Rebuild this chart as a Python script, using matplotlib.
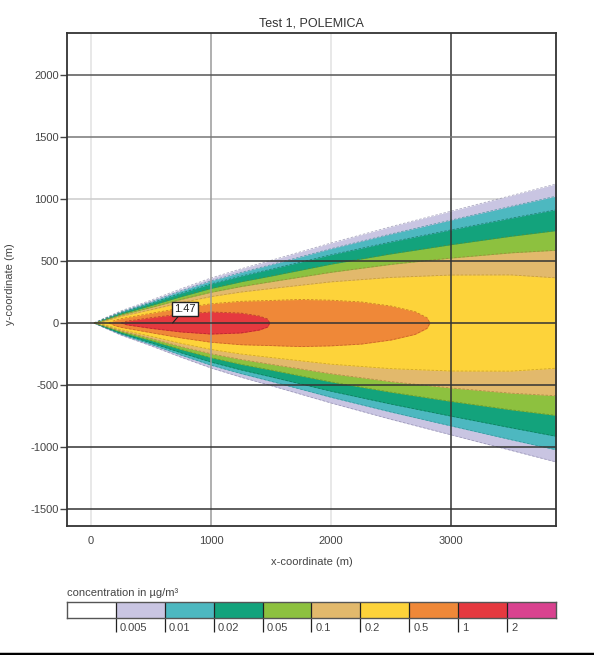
import matplotlib
matplotlib.use('Agg')
import matplotlib.pyplot as plt
from matplotlib.lines import Line2D

plt.rcParams['font.family'] = ['Liberation Sans', 'DejaVu Sans']
plt.rcParams['axes.unicode_minus'] = False

# plume half-widths (m) of each concentration contour
xs = [25, 100, 250, 500, 750, 1000, 1250, 1500, 2000, 2500, 3000, 3500, 3900]
hw_0005 = [0, 34, 98, 184, 276, 363, 437, 505, 645, 777, 902, 1027, 1127]
hw_001 = [0, 31, 91, 172, 259, 340, 408, 470, 599, 718, 830, 941, 1028]
hw_002 = [0, 28, 84, 160, 240, 315, 378, 434, 550, 654, 751, 845, 918]
hw_005 = [0, 23, 73, 141, 213, 279, 333, 379, 475, 558, 632, 700, 748]
hw_01 = [0, 18, 64, 125, 190, 248, 294, 333, 409, 473, 524, 566, 588]
hw_02 = [0, 11, 54, 107, 164, 213, 250, 278, 332, 368, 387, 388, 363]

x_05 = [150, 200, 250, 500, 750, 1000, 1250, 1500, 1750, 2000, 2250, 2500, 2700, 2800, 2825]
hw_05 = [0, 22, 35, 78, 120, 155, 175, 182, 190, 184, 170, 137, 92, 43, 0]

x_1 = [250, 300, 350, 500, 750, 1000, 1250, 1400, 1470, 1490]
hw_1 = [0, 15, 22, 43, 72, 89, 80, 57, 33, 0]

peak_x = 680
peak_val = 1.47

levels = ['0.005', '0.01', '0.02', '0.05', '0.1', '0.2', '0.5', '1', '2']
colors = ['#ffffff', '#c9c5e2', '#4db8c0', '#13a37c', '#8dc13f', '#e2b96c',
          '#fdd33a', '#ef8838', '#e5393f', '#d9428f']
edge_colors = ['#8a86a8', '#2f8c93', '#0d6e54', '#5f8a25', '#a07c3a',
               '#c09520', '#b85a1e', '#a82228']

x_ticks = [0, 1000, 2000, 3000]
x_grid_colors = ['#e2e2e2', '#9a9a9a', '#e2e2e2', '#333333']
y_ticks = [-1500, -1000, -500, 0, 500, 1000, 1500, 2000]
y_grid_colors = ['#333333', '#333333', '#333333', '#333333', '#333333',
                 '#cccccc', '#777777', '#555555']

fig = plt.figure(figsize=(5.94, 6.55), dpi=100)
ax = fig.add_axes([0.1128, 0.197, 0.8232, 0.7526])

bands = [(xs, hw_0005), (xs, hw_001), (xs, hw_002), (xs, hw_005),
         (xs, hw_01), (xs, hw_02), (x_05, hw_05), (x_1, hw_1)]
for i, (bx, bh) in enumerate(bands):
    neg = [-h for h in bh]
    ax.fill_between(bx, neg, bh, color=colors[i + 1], lw=0, zorder=1)
    ax.plot(bx, bh, color=edge_colors[i], lw=0.6, ls=(0, (3, 2)), alpha=0.7, zorder=1.5)
    ax.plot(bx, neg, color=edge_colors[i], lw=0.6, ls=(0, (3, 2)), alpha=0.7, zorder=1.5)

# faint grid lines sit under the plume, dark ones on top of it
for xv, c in zip(x_ticks, x_grid_colors):
    ax.axvline(xv, color=c, lw=1.1, zorder=0.5 if c in ('#e2e2e2', '#cccccc') else 2)
for yv, c in zip(y_ticks, y_grid_colors):
    ax.axhline(yv, color=c, lw=1.1, zorder=0.5 if c in ('#e2e2e2', '#cccccc') else 2)

ax.set_xlim(-200, 3875)
ax.set_ylim(-1637, 2339)
ax.set_xticks(x_ticks)
ax.set_yticks(y_ticks)
ax.tick_params(axis='x', length=0, pad=7, labelsize=8, labelcolor='#444444')
ax.tick_params(axis='y', length=5, width=1, pad=1, labelsize=8,
               labelcolor='#444444', color='#444444')
for s in ax.spines.values():
    s.set_color('#333333')
    s.set_linewidth(1.3)

ax.set_title('Test 1, POLEMICA', fontsize=9, color='#333333', pad=5)
ax.set_xlabel('x-coordinate (m)', fontsize=8, color='#444444', labelpad=8)
ax.set_ylabel('y-coordinate (m)', fontsize=8, color='#444444')
ax.yaxis.set_label_coords(-0.106, 0.49)

ax.annotate(f'{peak_val:.2f}', xy=(peak_x, 0), xytext=(peak_x + 100, 113),
            fontsize=8, color='#222222', ha='center', va='center', zorder=5,
            bbox=dict(boxstyle='square,pad=0.2', fc='white', ec='#222222', lw=1),
            arrowprops=dict(arrowstyle='-', color='#222222', lw=0.8,
                            shrinkA=0, shrinkB=0))

# colour legend
cax = fig.add_axes([0.1128, 0.0565, 0.8232, 0.0244])
cax.bar(range(len(colors)), 1, width=1, align='edge', color=colors, lw=0)
cax.set_xlim(0, len(colors))
cax.set_ylim(0, 1)
cax.set_xticks([])
cax.set_yticks([])
for s in cax.spines.values():
    s.set_color('#555555')
    s.set_linewidth(1)
cax.vlines(range(1, len(colors)), -0.9, 1, color='#222222', lw=0.9, clip_on=False)
for i, lab in enumerate(levels):
    cax.text(i + 1.08, -0.62, lab, ha='left', va='center', fontsize=8, color='#444444')
fig.text(0.1128, 1 - 593 / 655, 'concentration in µg/m³', fontsize=8,
         color='#444444', va='center', ha='left')

fig.add_artist(Line2D([0, 1], [0.002, 0.002], color='black', lw=2.5))

plt.savefig('out.png', dpi=100)
plt.close()
